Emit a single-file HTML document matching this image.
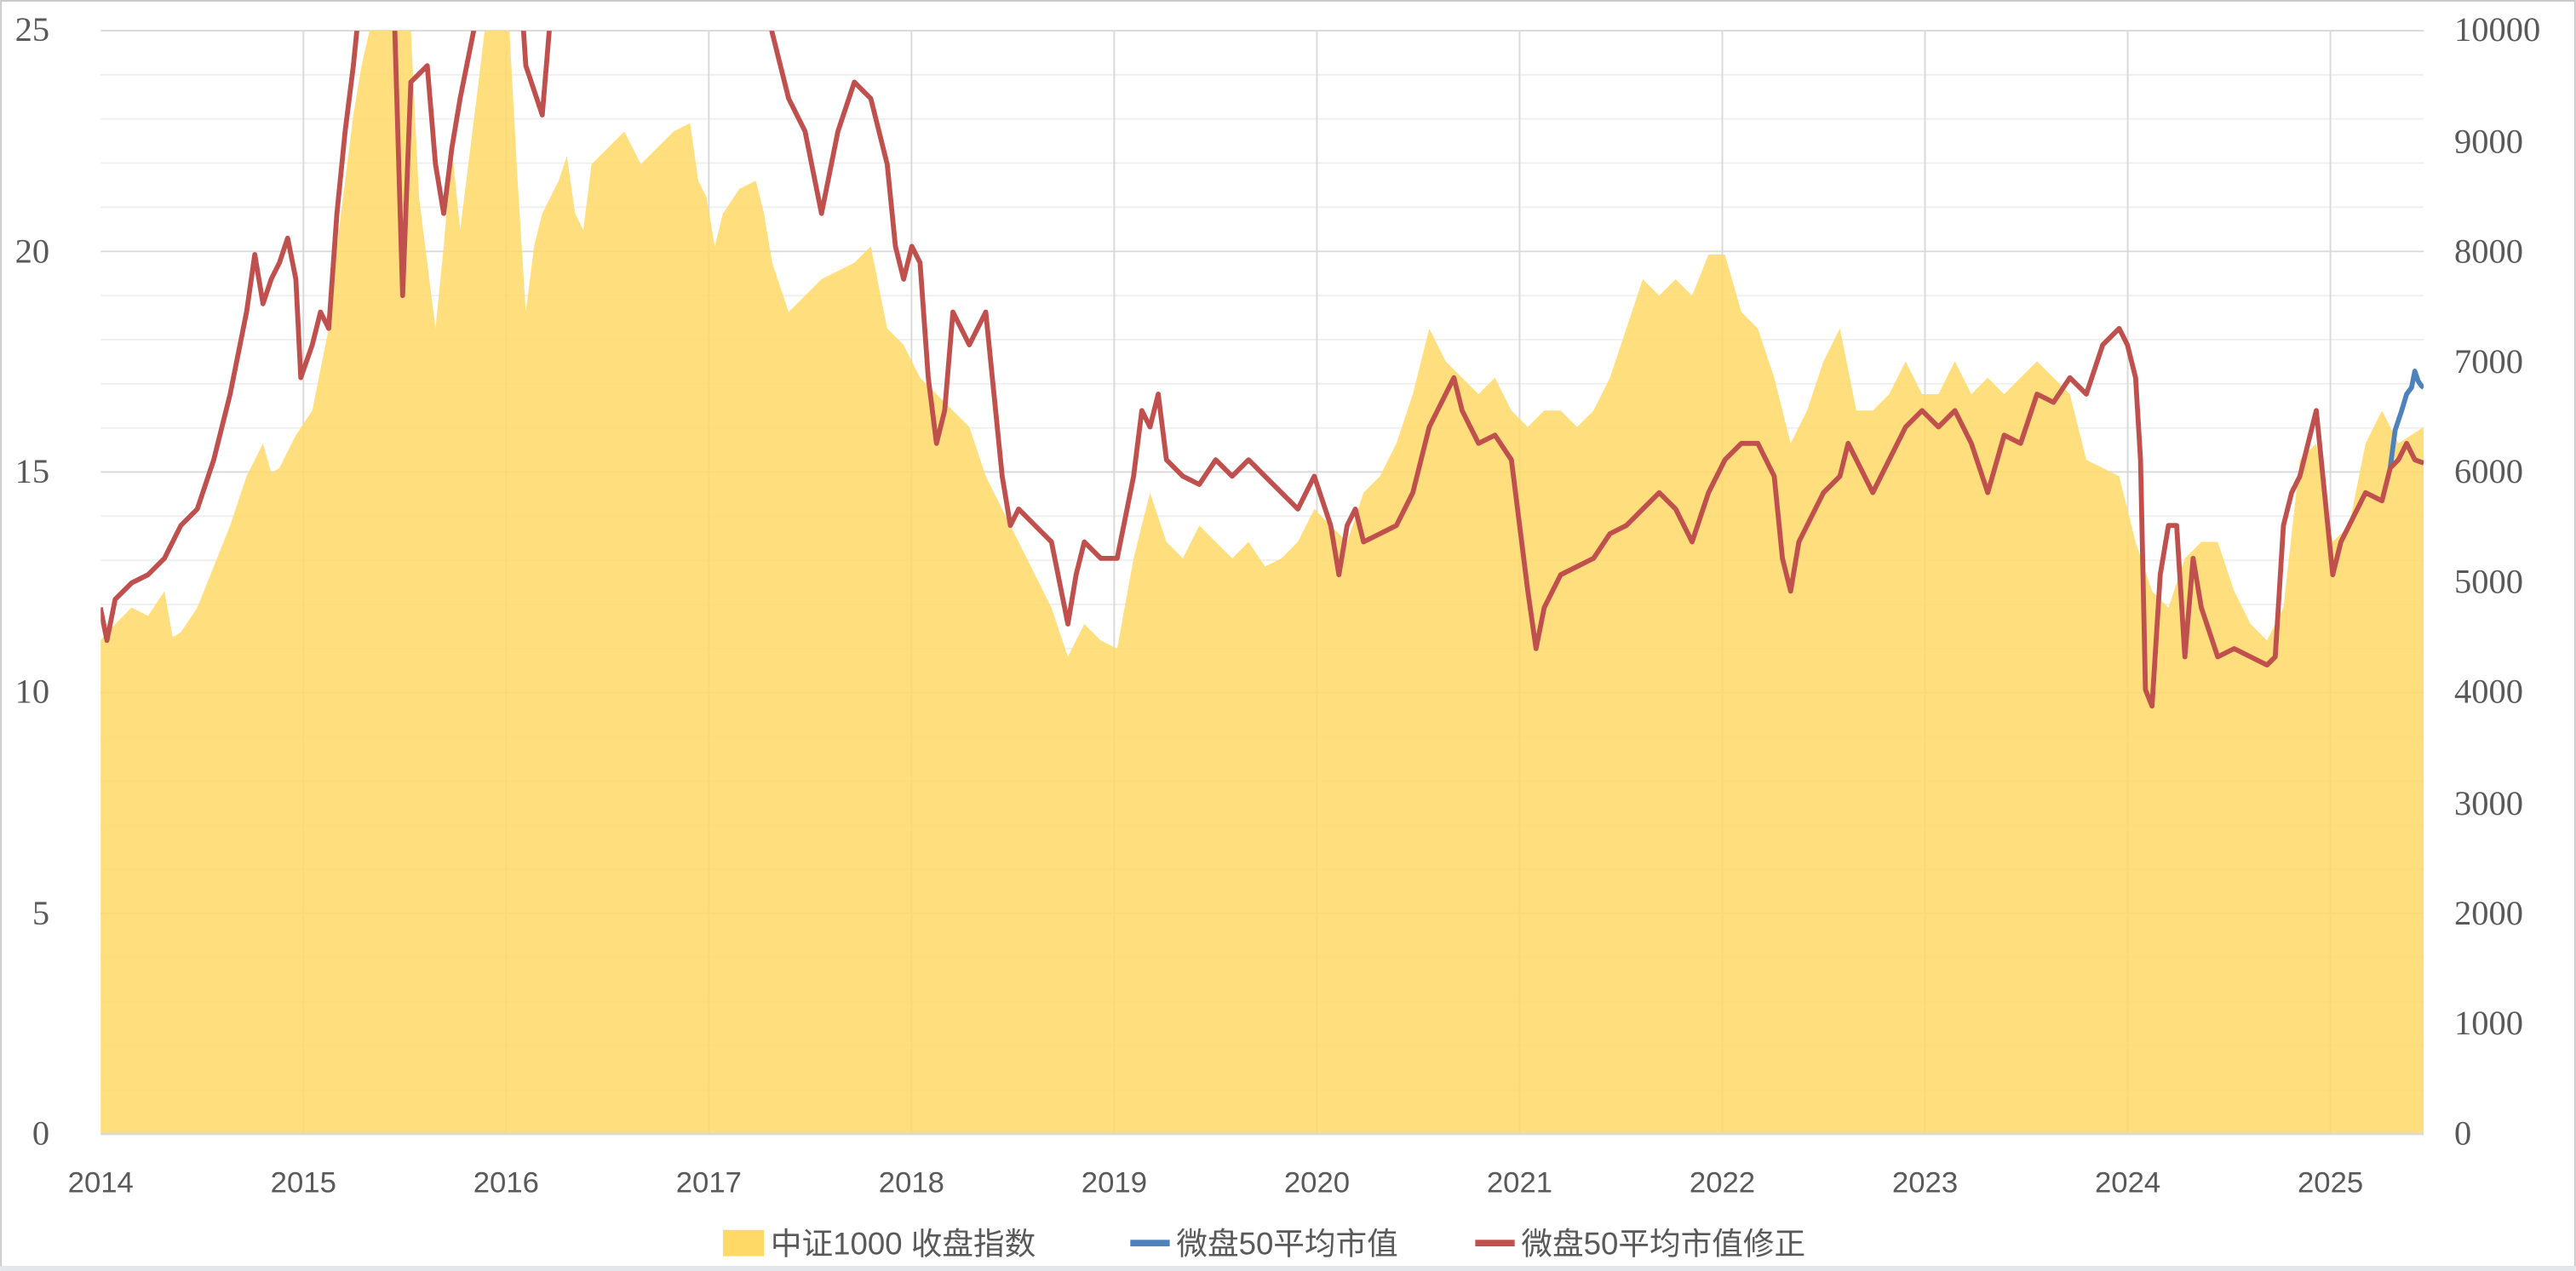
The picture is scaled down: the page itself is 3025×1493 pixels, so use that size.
<!DOCTYPE html>
<html><head><meta charset="utf-8"><style>
html,body{margin:0;padding:0;background:#fff;}
svg{display:block;}
</style></head><body>
<svg width="3025" height="1493" viewBox="0 0 1568 774" xmlns="http://www.w3.org/2000/svg">
<rect x="0" y="0" width="1568" height="774" fill="#fff"/>
<rect x="0.5" y="0.5" width="1567" height="771" fill="none" stroke="#c8c8c8" stroke-width="1"/>
<rect x="0" y="771" width="1568" height="3" fill="#e3e6ea"/>
<defs><clipPath id="c"><rect x="61.2" y="18.7" width="1414.2" height="671.8"/></clipPath></defs>
<g stroke="#efefef" stroke-width="1">
<path d="M61.2 45.6H1475.4M61.2 72.4H1475.4M61.2 99.3H1475.4M61.2 126.2H1475.4M61.2 180H1475.4M61.2 206.8H1475.4M61.2 233.7H1475.4M61.2 260.6H1475.4M61.2 314.3H1475.4M61.2 341.2H1475.4M61.2 368.1H1475.4M61.2 395H1475.4M61.2 448.7H1475.4M61.2 475.6H1475.4M61.2 502.5H1475.4M61.2 529.3H1475.4M61.2 583.1H1475.4M61.2 610H1475.4M61.2 636.8H1475.4M61.2 663.7H1475.4"/>
</g>
<g stroke="#d9d9d9" stroke-width="1">
<path d="M61.2 18.7H1475.4M61.2 153.1H1475.4M61.2 287.4H1475.4M61.2 421.8H1475.4M61.2 556.2H1475.4"/>
<path d="M184.6 18.7V690.5M308 18.7V690.5M431.4 18.7V690.5M554.8 18.7V690.5M678.2 18.7V690.5M801.6 18.7V690.5M925 18.7V690.5M1048.4 18.7V690.5M1171.8 18.7V690.5M1295.2 18.7V690.5M1418.6 18.7V690.5"/>
</g>
<g clip-path="url(#c)">
<path fill="#ffd966" fill-opacity="0.85" d="M61 690.5L61 390L70 380L80 370L90 375L100 360L105 388L110 385L120 370L130 345L140 320L150 290L160 270L165 288L170 285L180 265L190 250L200 200L205 150L210 110L215 70L220 40L225 18L250 18L255 120L260 160L265 200L270 150L275 90L280 140L285 100L290 60L295 18L310 18L315 110L320 190L325 150L330 130L340 110L345 95L350 130L355 140L360 100L370 90L380 80L390 100L400 90L410 80L420 75L425 110L430 120L435 150L440 130L450 115L460 110L465 130L470 160L480 190L490 180L500 170L510 165L520 160L530 150L540 200L550 210L560 230L570 240L580 250L590 260L600 290L610 310L620 330L630 350L640 370L650 400L660 380L670 390L680 395L690 340L700 300L710 330L720 340L730 320L740 330L750 340L760 330L770 345L780 340L790 330L800 310L810 320L820 330L830 300L840 290L850 270L860 240L870 200L880 220L890 230L900 240L910 230L920 250L930 260L940 250L950 250L960 260L970 250L980 230L990 200L1000 170L1010 180L1020 170L1030 180L1040 155L1050 155L1060 190L1070 200L1080 230L1090 270L1100 250L1110 220L1120 200L1130 250L1140 250L1150 240L1160 220L1170 240L1180 240L1190 220L1200 240L1210 230L1220 240L1230 230L1240 220L1250 230L1260 240L1270 280L1280 285L1290 290L1300 330L1310 360L1320 370L1330 340L1340 330L1350 330L1360 360L1370 380L1380 390L1390 370L1400 280L1410 270L1420 330L1430 320L1440 270L1450 250L1460 270L1475.4 260L1475.4 690.5Z"/>
<path fill="none" stroke="#4f81bd" stroke-width="3" stroke-linejoin="round" d="M1455 285L1458 262L1462 250L1465 240L1468 236L1470 226L1472 232L1474 235L1475.4 236"/>
<path fill="none" stroke="#c0504d" stroke-width="3" stroke-linejoin="round" d="M61 370L65 390L70 365L80 355L90 350L100 340L110 320L120 310L130 280L140 240L150 190L155 155L160 185L165 170L170 160L175 145L180 170L183 230L190 210L195 190L200 200L205 130L210 80L215 40L218 10L240 10L245 180L250 50L260 40L265 100L270 130L275 90L280 60L290 10L318 10L320 40L330 70L335 10L468 10L470 20L480 60L490 80L500 130L510 80L520 50L530 60L540 100L545 150L550 170L555 150L560 160L565 230L570 270L575 250L580 190L590 210L600 190L605 240L610 290L615 320L620 310L630 320L640 330L650 380L655 350L660 330L670 340L680 340L690 290L695 250L700 260L705 240L710 280L720 290L730 295L740 280L750 290L760 280L770 290L780 300L790 310L800 290L810 320L815 350L820 320L825 310L830 330L840 325L850 320L860 300L870 260L875 250L880 240L885 230L890 250L900 270L910 265L920 280L925 320L930 360L935 395L940 370L950 350L960 345L970 340L980 325L990 320L1000 310L1010 300L1020 310L1030 330L1040 300L1050 280L1060 270L1070 270L1080 290L1085 340L1090 360L1095 330L1100 320L1110 300L1120 290L1125 270L1130 280L1140 300L1150 280L1160 260L1170 250L1180 260L1190 250L1200 270L1210 300L1220 265L1230 270L1240 240L1250 245L1260 230L1270 240L1280 210L1290 200L1295 210L1300 230L1303 280L1306 420L1310 430L1315 350L1320 320L1325 320L1330 400L1335 340L1340 370L1350 400L1360 395L1370 400L1380 405L1385 400L1390 320L1395 300L1400 290L1405 270L1410 250L1415 300L1420 350L1425 330L1435 310L1440 300L1450 305L1455 285L1460 280L1465 270L1470 280L1475.4 282"/>
</g>
<line x1="61.2" y1="690.5" x2="1475.4" y2="690.5" stroke="#d9d9d9" stroke-width="1.5"/>
<g font-family="Liberation Serif, serif" font-size="21" fill="#595959">
<text x="30" y="25" text-anchor="end">25</text>
<text x="30" y="160" text-anchor="end">20</text>
<text x="30" y="294" text-anchor="end">15</text>
<text x="30" y="428" text-anchor="end">10</text>
<text x="30" y="563" text-anchor="end">5</text>
<text x="30" y="697" text-anchor="end">0</text>
<g text-anchor="start">
<text x="1494" y="25">10000</text>
<text x="1494" y="93">9000</text>
<text x="1494" y="160">8000</text>
<text x="1494" y="227">7000</text>
<text x="1494" y="294">6000</text>
<text x="1494" y="361">5000</text>
<text x="1494" y="428">4000</text>
<text x="1494" y="496">3000</text>
<text x="1494" y="563">2000</text>
<text x="1494" y="630">1000</text>
<text x="1494" y="697">0</text>
</g>
</g>
<g font-family="Liberation Sans, sans-serif" font-size="18" fill="#595959" text-anchor="middle">
<text x="61.2" y="726">2014</text><text x="184.6" y="726">2015</text><text x="308" y="726">2016</text><text x="431.4" y="726">2017</text><text x="554.8" y="726">2018</text><text x="678.2" y="726">2019</text><text x="801.6" y="726">2020</text><text x="925" y="726">2021</text><text x="1048.4" y="726">2022</text><text x="1171.8" y="726">2023</text><text x="1295.2" y="726">2024</text><text x="1418.6" y="726">2025</text>
</g>
<g font-family="Liberation Sans, 'Noto Sans CJK SC', sans-serif" font-size="19" fill="#595959">
<rect x="440" y="749" width="25" height="16" fill="#ffd966"/>
<text x="469" y="764">中证1000 收盘指数</text>
<rect x="688" y="755" width="24" height="4" fill="#4f81bd"/>
<text x="716" y="764">微盘50平均市值</text>
<rect x="898" y="755" width="24" height="4" fill="#c0504d"/>
<text x="926" y="764">微盘50平均市值修正</text>
</g>
</svg>
</body></html>
